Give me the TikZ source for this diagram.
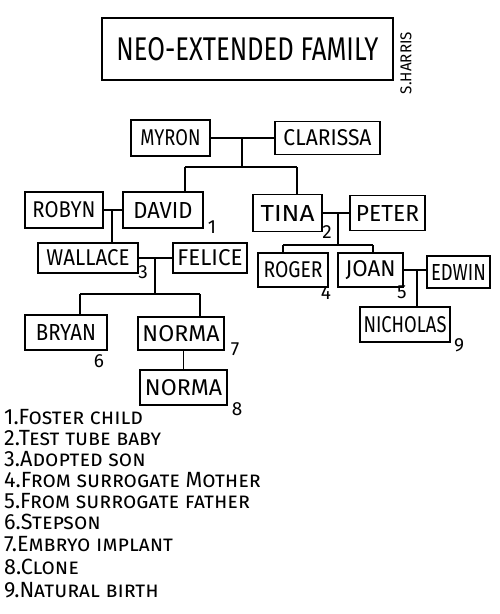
\documentclass[tikz,border=0pt]{standalone}
\usepackage{fontspec}
\setmainfont{Fira Sans}
\usepackage{graphicx}
\usetikzlibrary{calc}
% hand lettering: squeeze a name to the width it has in the sketch
\newcommand{\hand}[2]{\resizebox{#1pt}{16pt}{#2}}
\tikzset{
  person/.style={draw,line width=1.7pt,inner sep=0pt},
  tie/.style={line width=1.7pt},
  tag/.style={inner sep=0pt,font=\fontsize{19}{20}\selectfont},
  legend/.style={anchor=west,inner sep=0pt,font=\fontsize{22}{24}\selectfont\scshape}
}
\begin{document}
\begin{tikzpicture}[x=1pt,y=-1pt]
\useasboundingbox (0,0) rectangle (500,614);
% title
\node[person,minimum width=291pt,minimum height=62pt] (title) at (247.5,49)
  {\resizebox{262pt}{23pt}{NEO-EXTENDED FAMILY}};
\node[rotate=90,inner sep=0pt] (sig) at (406,63) {\resizebox{62pt}{11pt}{S.HARRIS}};
% grandparents
\node[person,minimum width=79pt,minimum height=36pt] (myron) at (170.5,138) {\hand{60}{MYRON}};
\node[person,minimum width=105pt,minimum height=33pt] (clarissa) at (327.5,138) {\hand{88}{CLARISSA}};
% second row
\node[person,minimum width=78pt,minimum height=36pt] (robyn) at (64,210) {\hand{63}{ROBYN}};
\node[person,minimum width=80pt,minimum height=36pt] (david) at (163,210) {\hand{59}{DAVID}};
\node[person,minimum width=69pt,minimum height=37pt] (tina) at (287.5,213) {\hand{54}{TINA}};
\node[person,minimum width=75pt,minimum height=35pt] (peter) at (387.5,213) {\hand{63}{PETER}};
% third row
\node[person,minimum width=100pt,minimum height=30pt] (wallace) at (88,258) {\hand{83}{WALLACE}};
\node[person,minimum width=74pt,minimum height=30pt] (felice) at (210,258) {\hand{65}{FELICE}};
\node[person,minimum width=70pt,minimum height=34pt] (roger) at (293,270) {\hand{59}{ROGER}};
\node[person,minimum width=65pt,minimum height=34pt] (joan) at (370.5,270) {\hand{50}{JOAN}};
\node[person,minimum width=63pt,minimum height=32pt] (edwin) at (458.5,272) {\hand{55}{EDWIN}};
% fourth row
\node[person,minimum width=82pt,minimum height=35pt] (bryan) at (66,332.5) {\hand{60}{BRYAN}};
\node[person,minimum width=86pt,minimum height=33pt] (norma) at (181,333.5) {\hand{77}{NORMA}};
\node[person,minimum width=90pt,minimum height=35pt] (nicholas) at (405,324.5) {\hand{83}{NICHOLAS}};
\node[person,minimum width=87pt,minimum height=35pt] (clone) at (183.5,387.5) {\hand{77}{NORMA}};
% junctions
\coordinate (mc) at (242,138);
\coordinate (sib1) at (242,167);
\coordinate (sib1l) at (185,167);
\coordinate (sib1r) at (297,167);
\coordinate (rd) at (112,210);
\coordinate (tp) at (338,213);
\coordinate (sib2) at (338,245);
\coordinate (sib2l) at (283,245);
\coordinate (sib2r) at (373,245);
\coordinate (wf) at (155,258);
\coordinate (sib3) at (155,294);
\coordinate (sib3l) at (80,294);
\coordinate (sib3r) at (200,294);
\coordinate (je) at (417,270);
% marriages and children
\draw[tie] (myron.east) -- (clarissa.west);
\draw[tie] (mc) -- (sib1);
\draw[tie] (sib1l) -- (sib1r);
\draw[tie] (sib1l) -- (sib1l |- david.north);
\draw[tie] (sib1r) -- (sib1r |- tina.north);
\draw[tie] (robyn.east) -- (david.west);
\draw[tie] (rd) -- (rd |- wallace.north);
\draw[tie] (tina.east) -- (peter.west);
\draw[tie] (tp) -- (sib2);
\draw[tie] (sib2l) -- (sib2r);
\draw[tie] (sib2l) -- (sib2l |- roger.north);
\draw[tie] (sib2r) -- (sib2r |- joan.north);
\draw[tie] (wallace.east) -- (felice.west);
\draw[tie] (wf) -- (sib3);
\draw[tie] (sib3l) -- (sib3r);
\draw[tie] (sib3l) -- (sib3l |- bryan.north);
\draw[tie] (sib3r) -- (sib3r |- norma.north);
\draw[tie] (norma.south -| clone.north) -- (clone.north);
\draw[tie] (joan.east) -- (joan.east -| edwin.west);
\draw[tie] (je) -- (je |- nicholas.north);
% footnote numbers
\node[tag] (n1) at (212,227) {1};
\node[tag] (n2) at (327,232) {2};
\node[tag] (n3) at (143,272) {3};
\node[tag] (n4) at (326,293) {4};
\node[tag] (n5) at (402,292) {5};
\node[tag] (n6) at (99,361) {6};
\node[tag] (n7) at (235,349) {7};
\node[tag] (n8) at (237,409) {8};
\node[tag] (n9) at (459,345) {9};
% legend
\foreach \y/\txt [count=\i] in {417/Foster child,438/Test tube baby,459/Adopted son,
    480/From surrogate Mother,501/From surrogate father,522/Stepson,
    544/Embryo implant,567/Clone,590/Natural birth}
  \node[legend] (leg\i) at (4,\y) {\scalebox{0.98}[1]{\i.\txt}};
\end{tikzpicture}
\end{document}
